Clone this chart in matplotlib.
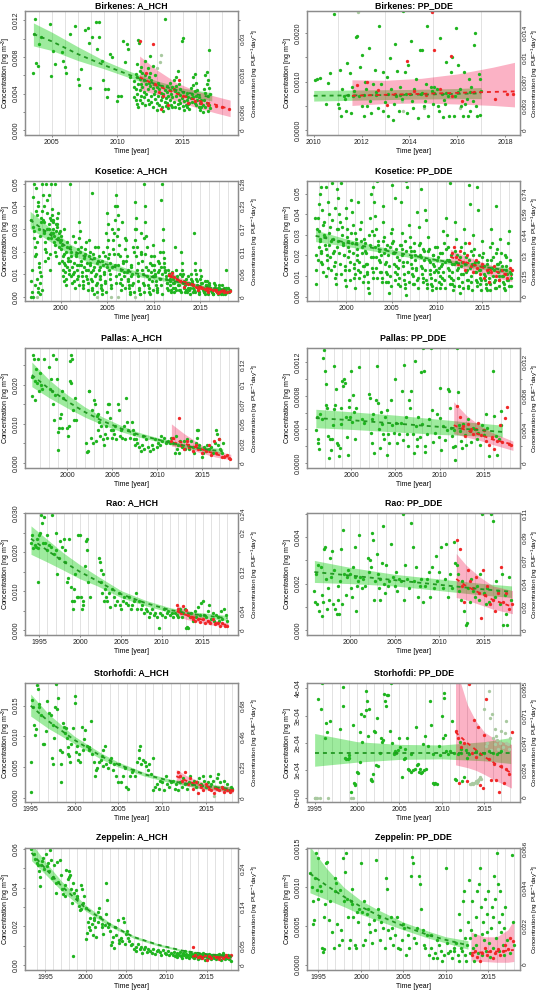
import matplotlib
matplotlib.use('Agg')
import matplotlib.pyplot as plt

plt.rcParams['font.family'] = ['Liberation Sans', 'DejaVu Sans']
plt.rcParams['mathtext.fontset'] = 'custom'
plt.rcParams['mathtext.rm'] = 'Liberation Sans'
plt.rcParams['mathtext.it'] = 'Liberation Sans'

# ---------------- Panel titles ----------------
titles = ["Birkenes: A_HCH", "Birkenes: PP_DDE", "Kosetice: A_HCH", "Kosetice: PP_DDE",
          "Pallas: A_HCH", "Pallas: PP_DDE", "Rao: A_HCH", "Rao: PP_DDE",
          "Storhofdi: A_HCH", "Storhofdi: PP_DDE", "Zeppelin: A_HCH", "Zeppelin: PP_DDE"]

# ---------------- Birkenes A_HCH ----------------
birk_ahch_green = [
 (2003.60,.00622),(2003.73,.01211),(2003.65,.01048),(2003.81,.0073),(2003.98,.00705),(2004.06,.0094),(2004.19,.01012),
 (2004.87,.01156),(2004.95,.00596),(2005.13,.00867),(2005.25,.00723),(2005.76,.00849),(2005.89,.00759),(2006.02,.00687),
 (2006.07,.00622),(2006.40,.01048),(2006.78,.01138),(2006.98,.0056),(2007.08,.00499),(2007.21,.00669),(2007.54,.01091),
 (2007.79,.0112),(2007.92,.00463),(2007.84,.00947),(2008.05,.01019),(2008.35,.01175),(2008.60,.01175),(2008.43,.00885),
 (2008.60,.01019),(2008.81,.00759),(2008.93,.00553),(2009.06,.00452),(2009.19,.00361),(2009.31,.00452),(2009.44,.00831),
 (2009.57,.00795),(2009.95,.00325),(2010.08,.00379),(2010.28,.00379),(2010.46,.00976),(2010.58,.00741),(2010.71,.0094),
 (2010.84,.00885),(2010.96,.00578),
 (2011.3,.0054),(2011.3,.0047),(2011.3,.0036),(2011.4,.0033),(2011.4,.0061),(2011.4,.0045),(2011.5,.0072),(2011.5,.0058),
 (2011.5,.0029),(2011.5,.0040),(2011.6,.0098),(2011.62,.0095),(2011.6,.0051),(2011.6,.0025),(2011.7,.0065),(2011.7,.0044),
 (2011.7,.0033),(2011.7,.0056),(2011.8,.0038),(2011.8,.0050),(2011.8,.0069),(2011.9,.0062),(2011.9,.0030),(2011.9,.0047),
 (2012.0,.0055),(2012.0,.0042),(2012.0,.0036),(2012.1,.0076),(2012.1,.0060),(2012.1,.0028),(2012.2,.0050),(2012.2,.0040),
 (2012.3,.0068),(2012.3,.0045),(2012.3,.0033),(2012.4,.0058),(2012.4,.0029),(2012.4,.0052),(2012.5,.0081),(2012.5,.0063),
 (2012.5,.0048),(2012.6,.0055),(2012.6,.0038),(2012.6,.0031),(2012.7,.0070),(2012.7,.0046),(2012.7,.0025),(2012.8,.0051),
 (2012.8,.0040),(2012.9,.0043),(2012.9,.0034),(2012.9,.0060),(2013.0,.0047),(2013.0,.0022),(2013.0,.0030),(2013.1,.0038),
 (2013.1,.0052),(2013.2,.0045),(2013.2,.0028),(2013.3,.0033),(2013.3,.0041),(2013.4,.0048),(2013.4,.0036),(2013.4,.0026),
 (2013.5,.0040),(2013.5,.0021),(2013.6,.0121),(2013.6,.0044),(2013.6,.0031),(2013.7,.0035),(2013.7,.0027),(2013.8,.0042),
 (2013.8,.0030),(2013.8,.0048),(2013.9,.0038),(2013.9,.0024),(2014.0,.0044),(2014.0,.0033),(2014.0,.0052),(2014.1,.0028),
 (2014.1,.0040),(2014.2,.0036),(2014.2,.0047),(2014.2,.0025),(2014.3,.0055),(2014.3,.0031),(2014.4,.0043),(2014.4,.0026),
 (2014.5,.0058),(2014.5,.0037),(2014.5,.0048),(2014.6,.0065),(2014.6,.0029),(2014.6,.0041),(2014.7,.0050),(2014.7,.0033),
 (2014.7,.0024),(2014.8,.0039),(2014.8,.0030),(2014.8,.0045),(2014.9,.0097),(2014.9,.0035),(2015.0,.0101),(2015.0,.0027),
 (2015.0,.0042),(2015.1,.0032),(2015.1,.0022),(2015.2,.0037),(2015.2,.0028),(2015.3,.0033),(2015.3,.0025),(2015.3,.0041),
 (2015.4,.0029),(2015.4,.0036),(2015.5,.0030),(2015.5,.0023),(2015.6,.0035),(2015.6,.0046),(2015.7,.0040),(2015.7,.0031),
 (2015.8,.0058),(2015.8,.0049),(2015.8,.0036),(2015.9,.0061),(2015.9,.0043),(2015.9,.0030),(2016.0,.0052),(2016.0,.0038),
 (2016.0,.0028),(2016.1,.0044),(2016.1,.0033),(2016.2,.0036),(2016.2,.0026),(2016.3,.0030),(2016.3,.0022),(2016.4,.0025),
 (2016.4,.0033),(2016.5,.0028),(2016.5,.0020),(2016.6,.0045),(2016.6,.0033),(2016.7,.0060),(2016.7,.0041),(2016.7,.0025),
 (2016.8,.0064),(2016.8,.0050),(2016.8,.0030),(2016.9,.0055),(2016.9,.0037),(2016.9,.0021),(2017.0,.0087),(2017.0,.0046),
 (2017.0,.0028),(2017.1,.0040),(2017.1,.0024)]
birk_ahch_red = [(2011.75,.0097),(2012.75,.0094),(2012.2,.0062),(2012.9,.0050),(2013.2,.0042),(2013.5,.0038),(2013.3,.0023),
 (2013.9,.0028),(2014.3,.0045),(2014.7,.0055),(2015.0,.0037),(2015.4,.0030),(2015.9,.0032),(2016.4,.0030),(2016.9,.0028),
 (2017.5,.0027),(2018.0,.0025),(2018.5,.0023)]
birk_ahch_pale = [(2013.3,.0082),(2013.25,.0075),(2013.0,.0068)]
birk_ahch_gband = ([2003.6,2005,2007,2009,2011,2013,2015,2017.2],
                   [.0092,.0087,.0076,.0067,.0057,.0047,.0039,.0032],
                   [.0105,.0097,.0083,.0071,.0060,.0050,.0042,.0036],
                   [.0117,.0107,.0091,.0076,.0064,.0054,.0046,.0041])
birk_ahch_pband = ([2011.7,2013,2014.5,2016,2017.5,2018.6],
                   [.0044,.0039,.0032,.0025,.0019,.0015],
                   [.0058,.0049,.0040,.0033,.0028,.0023],
                   [.0081,.0066,.0052,.0043,.0037,.0033])

# ---------------- Birkenes PP_DDE ----------------
birk_ppdde_green = [
 (2010.05,.00103),(2010.15,.00106),(2010.25,.00108),(2010.5,.00055),(2010.6,.00098),(2010.7,.00118),(2010.85,.0024),
 (2011.0,.00055),(2011.05,.00045),(2011.1,.00125),(2011.15,.0003),(2011.2,.00085),(2011.3,.00065),(2011.35,.0004),
 (2011.4,.00138),(2011.5,.00118),(2011.6,.0009),(2011.55,.00035),(2011.7,.0008),(2011.75,.00192),(2011.8,.00195),
 (2011.9,.0007),(2011.92,.0013),(2012.0,.0005),(2012.02,.00155),(2012.1,.0003),(2012.15,.0010),(2012.2,.00085),
 (2012.3,.0017),(2012.35,.0006),(2012.4,.00035),(2012.5,.00095),(2012.55,.00125),(2012.6,.00078),(2012.7,.00045),
 (2012.75,.00215),(2012.8,.00095),(2012.9,.0012),(2013.0,.00058),(2013.05,.0011),(2013.1,.0003),(2013.2,.00148),
 (2013.25,.00085),(2013.3,.0002),(2013.4,.00178),(2013.45,.0007),(2013.5,.00123),(2013.55,.0004),(2013.6,.0009),
 (2013.7,.00065),(2013.75,.00245),(2013.8,.0012),(2013.85,.00075),(2013.9,.00035),(2013.95,.00135),(2014.05,.00185),
 (2014.1,.0006),(2014.2,.00085),(2014.3,.00105),(2014.35,.00025),(2014.45,.00165),(2014.5,.00075),(2014.55,.00165),
 (2014.6,.0005),(2014.7,.00095),(2014.75,.00215),(2014.8,.0003),(2014.9,.0009),(2014.95,.0008),(2015.0,.00055),
 (2015.05,.0009),(2015.15,.00085),(2015.2,.0005),(2015.25,.0004),(2015.3,.0019),(2015.35,.00075),(2015.4,.00028),
 (2015.5,.00055),(2015.55,.0014),(2015.6,.0007),(2015.65,.0003),(2015.75,.0012),(2015.8,.0015),(2015.85,.0003),
 (2015.9,.0007),(2015.95,.0021),(2016.05,.00135),(2016.1,.00085),(2016.15,.0005),(2016.25,.0003),(2016.3,.0012),
 (2016.4,.00065),(2016.45,.0003),(2016.5,.00105),(2016.55,.0004),(2016.6,.0009),(2016.65,.0006),(2016.7,.00175),
 (2016.75,.002),(2016.8,.0005),(2016.85,.0003),(2016.9,.00115),(2016.95,.00105),(2017.0,.0008),(2016.97,.00032),
 (2011.25,.0007),(2011.45,.00072),(2011.65,.0007),(2012.12,.00072),(2012.62,.00073),(2013.12,.00075),(2013.62,.00073),
 (2014.02,.00074),(2014.52,.00076),(2015.02,.00076),(2015.52,.00077),(2016.02,.00078),(2016.52,.00078),
 (2012.25,.0005),(2012.9,.0004),(2013.35,.00055),(2014.15,.00045),(2014.65,.0006),(2015.45,.00062),(2016.35,.00055)]
birk_ppdde_red = [(2014.95,.00243),(2015.05,.00166),(2015.75,.00153),(2013.9,.00142),(2011.8,.00093),(2012.25,.00099),
 (2012.7,.00082),(2013.05,.00052),(2013.4,.00075),(2014.2,.0008),(2014.7,.00072),(2015.3,.00085),(2015.8,.0007),
 (2016.2,.0006),(2016.7,.00078),(2017.6,.00065),(2018.1,.00075),(2018.35,.00075)]
birk_ppdde_pale = [(2011.85,.00243),(2013.75,.0004),(2014.6,.00045),(2016.1,.00045),(2013.7,.0006)]
birk_ppdde_gband = ([2010.0,2012,2014,2016,2017.0],
                    [.00060,.00062,.00064,.00065,.00065],
                    [.00071,.00072,.00073,.00075,.00076],
                    [.00082,.00083,.00084,.00086,.00088])
birk_ppdde_pband = ([2011.6,2013,2014.5,2016,2017.5,2018.4],
                    [.00051,.00055,.00056,.00054,.00051,.00048],
                    [.00071,.00073,.00075,.00077,.00079,.0008],
                    [.00104,.00103,.00107,.00116,.0013,.0014])

# ---------------- Kosetice A_HCH ----------------
kos_ahch_green = [
 (1996.75,0.0),(1996.8,.034),(1996.85,.007),(1996.9,.012),(1996.95,.002),(1997.0,.044),(1997.05,0.0),(1997.1,.05),
 (1997.15,.029),(1997.2,.018),(1997.25,.005),(1997.3,.048),(1997.35,.038),(1997.4,.024),(1997.45,.008),(1997.5,.004),
 (1997.55,.002),(1997.6,.04),(1997.65,.03),(1997.7,.013),(1997.75,.006),(1997.8,.001),(1997.85,.035),(1997.9,.009),
 (1997.95,.003),(1998.0,.05),(1998.1,.045),(1998.15,.04),(1998.2,.033),(1998.25,.028),(1998.3,.021),(1998.35,.016),
 (1998.4,.05),(1998.5,.037),(1998.55,.03),(1998.6,.026),(1998.7,.045),(1998.75,.032),(1998.8,.019),(1998.85,.012),
 (1998.9,.028),(1998.95,.034),(1999.0,.05),(1999.1,.036),(1999.15,.033),(1999.2,.028),(1999.3,.024),(1999.35,.02),
 (1999.4,.05),(1999.45,.032),(1999.5,.029),(1999.6,.035),(1999.65,.031),(1999.7,.026),(1999.8,.022),(1999.85,.015),
 (1999.9,.029),(1999.95,.024),(2000.0,.021),(2000.05,.025),(2000.1,.016),(2000.2,.012),(2000.25,.009),(2000.3,.007),
 (2000.35,.03),(2000.4,.019),(2000.5,.014),(2000.6,.005),(2000.65,.013),(2000.7,.022),(2000.8,.017),(2000.9,.01),
 (2000.95,.05),(2001.0,.016),(2001.1,.02),(2001.15,.009),(2001.2,.006),(2001.3,.027),(2001.4,.015),(2001.45,.011),
 (2001.5,.004),(2001.6,.018),(2001.7,.012),(2001.8,.008),(2001.9,.021),(2001.95,.014),(2002.0,.033),(2002.1,.029),
 (2002.15,.022),(2002.2,.016),(2002.3,.011),(2002.35,.007),(2002.4,.004),(2002.5,.013),(2002.6,.019),(2002.7,.024),
 (2002.75,.009),(2002.8,.015),(2002.9,.006),(2002.95,.012),(2003.0,.025),(2003.1,.02),(2003.2,.014),(2003.3,.008),
 (2003.35,.046),(2003.4,.004),(2003.5,.012),(2003.55,.017),(2003.6,.001),(2003.7,.022),(2003.8,.01),(2003.9,.006),
 (2003.95,.015),(2004.0,.022),(2004.1,.018),(2004.2,.013),(2004.25,.009),(2004.3,.005),(2004.4,.003),(2004.5,.016),
 (2004.6,.02),(2004.7,.011),(2004.8,.007),(2004.9,.028),(2004.95,.013),(2005.0,.037),(2005.05,.032),(2005.1,.025),
 (2005.2,.019),(2005.3,.015),(2005.35,.01),(2005.4,.005),(2005.5,.013),(2005.6,.021),(2005.7,.028),(2005.8,.034),
 (2005.9,.04),(2005.95,.009),(2006.0,.045),(2006.1,.04),(2006.15,.036),(2006.2,.03),(2006.3,.023),(2006.4,.018),
 (2006.45,.012),(2006.5,.008),(2006.6,.005),(2006.7,.016),(2006.8,.011),(2006.9,.021),(2006.95,.026),(2007.0,.025),
 (2007.1,.018),(2007.2,.012),(2007.3,.008),(2007.4,.005),(2007.5,.002),(2007.6,.014),(2007.7,.01),(2007.8,.006),
 (2007.9,.02),(2007.95,.03),(2008.0,.042),(2008.1,.035),(2008.15,.03),(2008.2,.022),(2008.3,.015),(2008.35,.009),
 (2008.4,.004),(2008.5,.001),(2008.6,.028),(2008.7,.019),(2008.8,.012),(2008.9,.006),(2008.95,.002),(2009.0,.05),
 (2009.05,.04),(2009.1,.033),(2009.2,.027),(2009.3,.022),(2009.4,.012),(2009.5,.008),(2009.55,.004),(2009.6,.001),
 (2009.7,.018),(2009.8,.014),(2009.9,.009),(2009.95,.023),(2010.0,.018),(2010.1,.012),(2010.2,.009),(2010.3,.005),
 (2010.4,.003),(2010.5,.011),(2010.6,.015),(2010.7,.02),(2010.8,.043),(2010.85,.013),(2010.9,.01),(2010.95,.05),
 (2011.0,.03),(2011.05,.025),(2011.1,.017),(2011.15,.013),(2011.2,.011),(2011.3,.008),(2011.4,.006),(2011.5,.004),
 (2011.6,.012),(2011.7,.01),(2011.8,.007),(2011.9,.003),(2012.0,.009),(2012.1,.006),(2012.15,.004),(2012.2,.002),
 (2012.3,.022),(2012.4,.012),(2012.5,.008),(2012.6,.005),(2012.7,.003),(2012.8,.01),(2012.9,.007),(2013.0,.02),
 (2013.1,.015),(2013.2,.01),(2013.3,.007),(2013.4,.005),(2013.5,.003),(2013.6,.002),(2013.7,.009),(2013.8,.006),
 (2013.9,.004),(2014.0,.008),(2014.1,.006),(2014.2,.004),(2014.3,.002),(2014.4,.028),(2014.5,.015),(2014.6,.01),
 (2014.7,.007),(2014.8,.004),(2014.9,.002),(2015.0,.012),(2015.1,.009),(2015.2,.006),(2015.3,.004),(2015.4,.002),
 (2015.5,.001),(2015.6,.005),(2015.7,.003),(2015.8,.007),(2015.9,.002),(2016.0,.006),(2016.1,.004),(2016.2,.003),
 (2016.3,.002),(2016.4,.001),(2016.6,.005),(2016.7,.003),(2016.8,.002),(2016.9,.004),(2017.0,.005),(2017.1,.003),
 (2017.3,.002),(2017.5,.001),(2017.6,.004),(2017.7,.003),(2017.8,.012),(2017.9,.002),(2018.0,.004),(2018.1,.002),
 (2018.2,.003),
 (1997.02,.031),(1997.12,.026),(1997.22,.022),(1997.32,.019),(1997.42,.036),(1997.52,.042),(1997.62,.015),(1997.72,.011),
 (1997.82,.027),(1997.92,.033),(1998.02,.038),(1998.12,.034),(1998.22,.029),(1998.32,.024),(1998.42,.02),(1998.52,.043),
 (1998.62,.017),(1998.72,.03),(1998.82,.035),(1998.92,.026),(1999.02,.039),(1999.12,.034),(1999.22,.03),(1999.32,.027),
 (1999.42,.023),(1999.52,.018),(1999.62,.032),(1999.72,.037),(1999.82,.028),(1999.92,.025),(2000.02,.027),(2000.12,.023),
 (2000.22,.018),(2000.32,.015),(2000.42,.011),(2000.52,.008),(2000.62,.02),(2000.72,.024),(2000.82,.016),(2000.92,.012),
 (2001.02,.022),(2001.12,.018),(2001.22,.013),(2001.32,.01),(2001.42,.007),(2001.52,.024),(2001.62,.019),(2001.72,.014),
 (2001.82,.009),(2001.92,.005),(2002.02,.026),(2002.12,.02),(2002.22,.014),(2002.32,.009),(2002.42,.005),(2002.52,.017),
 (2002.62,.021),(2002.72,.012),(2002.82,.008),(2002.92,.003),(2003.02,.018),(2003.12,.015),(2003.22,.011),(2003.32,.007),
 (2003.42,.003),(2003.52,.019),(2003.62,.013),(2003.72,.009),(2003.82,.005),(2003.92,.002),(2004.02,.016),(2004.12,.012),
 (2004.22,.008),(2004.32,.004),(2004.42,.001),(2004.52,.014),(2004.62,.01),(2004.72,.006),(2004.82,.018),(2004.92,.002),
 (2005.02,.022),(2005.12,.017),(2005.22,.012),(2005.32,.008),(2005.42,.004),(2005.52,.03),(2005.62,.025),(2005.72,.019),
 (2005.82,.014),(2005.92,.006),(2006.02,.027),(2006.12,.019),(2006.22,.014),(2006.32,.01),(2006.42,.006),(2006.52,.003),
 (2006.62,.033),(2006.72,.015),(2006.82,.009),(2006.92,.004),(2007.02,.016),(2007.12,.011),(2007.22,.007),(2007.32,.004),
 (2007.42,.001),(2007.52,.013),(2007.62,.009),(2007.72,.005),(2007.82,.022),(2007.92,.002),(2008.02,.025),(2008.12,.018),
 (2008.22,.012),(2008.32,.007),(2008.42,.003),(2008.52,.001),(2008.62,.02),(2008.72,.016),(2008.82,.01),(2008.92,.005),
 (2009.02,.026),(2009.12,.019),(2009.22,.013),(2009.32,.009),(2009.42,.005),(2009.52,.002),(2009.62,.015),(2009.72,.011),
 (2009.82,.007),(2009.92,.003),(2010.02,.014),(2010.12,.01),(2010.22,.007),(2010.32,.004),(2010.42,.002),(2010.52,.016),
 (2010.62,.012),(2010.72,.008),(2010.82,.005),(2010.92,.001),(2011.02,.02),(2011.12,.015),(2011.22,.012),(2011.32,.009),
 (2011.42,.006),(2011.52,.003),(2011.62,.01),(2011.72,.008),(2011.82,.005),(2011.92,.002),(2012.02,.011),(2012.12,.008),
 (2012.22,.006),(2012.32,.004),(2012.42,.003),(2012.52,.009),(2012.62,.007),(2012.72,.005),(2012.82,.003),(2012.92,.002),
 (2013.02,.012),(2013.12,.009),(2013.22,.006),(2013.32,.004),(2013.42,.002),(2013.52,.008),(2013.62,.006),(2013.72,.004),
 (2013.82,.003),(2013.92,.001),(2014.02,.01),(2014.12,.007),(2014.22,.005),(2014.32,.003),(2014.42,.002),(2014.52,.012),
 (2014.62,.008),(2014.72,.005),(2014.82,.003),(2014.92,.001),(2015.02,.008),(2015.12,.006),(2015.22,.004),(2015.32,.003),
 (2015.42,.002),(2015.52,.007),(2015.62,.005),(2015.72,.003),(2015.82,.002),(2015.92,.001),(2016.02,.005),(2016.12,.004),
 (2016.22,.003),(2016.32,.002),(2016.42,.001),(2016.52,.006),(2016.62,.004),(2016.72,.003),(2016.82,.002),(2016.92,.001),
 (2017.02,.004),(2017.12,.003),(2017.22,.002),(2017.32,.001),(2017.42,.005),(2017.52,.003),(2017.62,.002),(2017.72,.001),
 (2017.82,.004),(2017.92,.002)]
kos_ahch_red = [(2011.7,.0095),(2011.9,.009),(2012.2,.0085),(2012.5,.0075),(2012.8,.007),(2013.1,.0065),(2013.4,.006),
 (2013.7,.0058),(2014.0,.0055),(2014.3,.005),(2014.6,.0045),(2014.9,.004),(2015.2,.0038),(2015.5,.0035),(2015.8,.003),
 (2016.1,.0032),(2016.4,.0028),(2016.7,.0025),(2017.0,.0022),(2017.3,.0025),(2017.6,.002),(2017.9,.0022),(2018.2,.0025),
 (2012.0,.0105),(2013.3,.0045),(2014.8,.003),(2015.9,.0022),(2016.9,.0015)]
kos_ahch_pale = [(2003.9,0.0),(2005.4,0.0),(2006.2,0.0),(2008.0,0.0),(1997.4,0.0)]
kos_ahch_gband = ([1996.7,1999,2001,2003,2005,2007,2009,2011,2013,2015,2017,2018.2],
                  [.0302,.024,.0187,.0152,.0126,.0103,.0084,.007,.0055,.0042,.0029,.0024],
                  [.034,.027,.021,.017,.0142,.0115,.0094,.0078,.0062,.0048,.0035,.003],
                  [.0378,.030,.0233,.0188,.0158,.0127,.0104,.0086,.0069,.0054,.0041,.0036])
kos_ahch_pband = ([2011.6,2013,2015,2016.5,2018.2],
                  [.0075,.006,.0035,.0025,.0018],
                  [.0092,.007,.0044,.0032,.0025],
                  [.0115,.0082,.0052,.004,.0032])

# ---------------- Kosetice PP_DDE ----------------
kos_ppdde_green = [
 (1996.55,.038),(1996.6,.006),(1996.65,.02),(1996.7,.013),(1996.8,.033),(1996.85,.018),(1996.9,.038),(1996.95,.024),
 (1997.0,.045),(1997.05,.05),(1997.1,.028),(1997.15,.022),(1997.2,.017),(1997.25,.053),(1997.3,.042),(1997.4,.035),
 (1997.5,.03),(1997.6,.025),(1997.7,.053),(1997.8,.01),(1997.9,.02),(1998.0,.046),(1998.1,.04),(1998.2,.034),
 (1998.3,.027),(1998.4,.055),(1998.5,.021),(1998.6,.015),(1998.7,.043),(1998.8,.009),(1998.9,.006),(1998.95,.033),
 (1999.0,.052),(1999.1,.048),(1999.2,.04),(1999.3,.036),(1999.4,.055),(1999.5,.03),(1999.6,.025),(1999.7,.02),
 (1999.8,.013),(1999.9,.008),(1999.95,.005),(2000.0,.038),(2000.1,.033),(2000.2,.027),(2000.3,.022),(2000.4,.017),
 (2000.5,.047),(2000.6,.041),(2000.7,.035),(2000.8,.014),(2000.9,.009),(2000.95,.004),(2001.0,.031),(2001.1,.026),
 (2001.2,.02),(2001.3,.046),(2001.4,.017),(2001.5,.012),(2001.6,.036),(2001.7,.024),(2001.8,.007),(2001.9,.015),
 (2002.0,.028),(2002.1,.022),(2002.2,.016),(2002.3,.011),(2002.4,.004),(2002.5,.002),(2002.6,.038),(2002.7,.05),
 (2002.8,.032),(2002.9,.019),(2002.95,.012),(2003.0,.053),(2003.1,.046),(2003.2,.039),(2003.3,.033),(2003.4,.056),
 (2003.5,.025),(2003.6,.018),(2003.7,.012),(2003.8,.02),(2003.9,.009),(2004.0,.044),(2004.1,.036),(2004.2,.029),
 (2004.3,.023),(2004.4,.017),(2004.5,.011),(2004.6,.007),(2004.7,.002),(2004.8,.024),(2004.9,.031),(2005.0,.054),
 (2005.1,.033),(2005.2,.027),(2005.3,.021),(2005.4,.048),(2005.5,.015),(2005.6,.011),(2005.7,.006),(2005.8,.018),
 (2005.9,.025),(2006.0,.046),(2006.1,.031),(2006.2,.023),(2006.3,.017),(2006.4,.008),(2006.5,.004),(2006.55,.001),
 (2006.6,.056),(2006.7,.053),(2006.8,.012),(2006.9,.035),(2007.0,.029),(2007.1,.022),(2007.2,.016),(2007.3,.011),
 (2007.4,.006),(2007.5,.026),(2007.6,.02),(2007.7,.014),(2007.8,.041),(2007.9,.009),(2008.0,.034),(2008.1,.026),
 (2008.2,.052),(2008.3,.019),(2008.4,.014),(2008.5,.009),(2008.6,.022),(2008.7,.042),(2008.8,.037),(2008.9,.006),
 (2009.0,.029),(2009.1,.023),(2009.2,.017),(2009.3,.011),(2009.4,.006),(2009.5,.003),(2009.6,.02),(2009.7,.015),
 (2009.8,.024),(2009.9,.013),(2010.0,.018),(2010.1,.012),(2010.2,.007),(2010.3,.004),(2010.4,.021),(2010.5,.015),
 (2010.6,.009),(2010.7,.032),(2010.8,.026),(2010.9,.017),(2011.0,.038),(2011.1,.03),(2011.2,.024),(2011.3,.018),
 (2011.4,.013),(2011.5,.055),(2011.6,.009),(2011.7,.006),(2011.8,.003),(2011.9,.016),(2012.0,.036),(2012.1,.028),
 (2012.2,.02),(2012.3,.014),(2012.4,.009),(2012.5,.005),(2012.6,.002),(2012.7,.024),(2012.8,.017),(2012.9,.011),
 (2013.0,.033),(2013.1,.026),(2013.2,.019),(2013.3,.013),(2013.4,.008),(2013.5,.004),(2013.6,.054),(2013.7,.045),
 (2013.8,.022),(2013.9,.016),(2014.0,.03),(2014.1,.023),(2014.2,.017),(2014.3,.012),(2014.4,.007),(2014.5,.053),
 (2014.6,.042),(2014.7,.02),(2014.8,.013),(2014.9,.008),(2015.0,.027),(2015.1,.021),(2015.2,.015),(2015.3,.01),
 (2015.4,.006),(2015.5,.003),(2015.6,.018),(2015.7,.012),(2015.8,.007),(2015.9,.024),(2016.0,.033),(2016.1,.026),
 (2016.2,.019),(2016.3,.013),(2016.4,.008),(2016.5,.004),(2016.6,.044),(2016.7,.023),(2016.8,.016),(2016.9,.01),
 (2017.0,.028),(2017.1,.021),(2017.2,.015),(2017.3,.01),(2017.4,.006),(2017.5,.003),(2017.6,.019),(2017.7,.013),
 (2017.8,.008),(2017.9,.026),(2018.0,.032),(2018.1,.018),(2018.2,.011),(2018.25,.005),
 (1997.03,.032),(1997.13,.027),(1997.23,.021),(1997.33,.016),(1997.43,.012),(1997.53,.036),(1997.63,.029),(1997.73,.023),
 (1997.83,.018),(1997.93,.014),(1998.03,.031),(1998.13,.025),(1998.23,.019),(1998.33,.013),(1998.43,.037),(1998.53,.028),
 (1998.63,.022),(1998.73,.017),(1998.83,.011),(1998.93,.024),(1999.03,.033),(1999.13,.027),(1999.23,.021),(1999.33,.016),
 (1999.43,.011),(1999.53,.034),(1999.63,.026),(1999.73,.02),(1999.83,.015),(1999.93,.043),(2000.03,.029),(2000.13,.024),
 (2000.23,.019),(2000.33,.013),(2000.43,.008),(2000.53,.031),(2000.63,.026),(2000.73,.021),(2000.83,.016),(2000.93,.011),
 (2001.03,.028),(2001.13,.023),(2001.23,.018),(2001.33,.013),(2001.43,.009),(2001.53,.033),(2001.63,.027),(2001.73,.021),
 (2001.83,.015),(2001.93,.01),(2002.03,.026),(2002.13,.021),(2002.23,.016),(2002.33,.012),(2002.43,.007),(2002.53,.03),
 (2002.63,.025),(2002.73,.019),(2002.83,.014),(2002.93,.009),(2003.03,.03),(2003.13,.024),(2003.23,.019),(2003.33,.014),
 (2003.43,.009),(2003.53,.027),(2003.63,.022),(2003.73,.017),(2003.83,.012),(2003.93,.007),(2004.03,.027),(2004.13,.021),
 (2004.23,.016),(2004.33,.012),(2004.43,.007),(2004.53,.025),(2004.63,.02),(2004.73,.015),(2004.83,.01),(2004.93,.005),
 (2005.03,.026),(2005.13,.021),(2005.23,.016),(2005.33,.012),(2005.43,.008),(2005.53,.023),(2005.63,.019),(2005.73,.014),
 (2005.83,.009),(2005.93,.005),(2006.03,.025),(2006.13,.02),(2006.23,.015),(2006.33,.011),(2006.43,.006),(2006.53,.027),
 (2006.63,.022),(2006.73,.017),(2006.83,.012),(2006.93,.007),(2007.03,.024),(2007.13,.019),(2007.23,.014),(2007.33,.01),
 (2007.43,.006),(2007.53,.022),(2007.63,.018),(2007.73,.013),(2007.83,.008),(2007.93,.004),(2008.03,.025),(2008.13,.02),
 (2008.23,.015),(2008.33,.011),(2008.43,.007),(2008.53,.023),(2008.63,.018),(2008.73,.013),(2008.83,.008),(2008.93,.004),
 (2009.03,.022),(2009.13,.018),(2009.23,.013),(2009.33,.009),(2009.43,.005),(2009.53,.02),(2009.63,.016),(2009.73,.012),
 (2009.83,.008),(2009.93,.004),(2010.03,.024),(2010.13,.019),(2010.23,.014),(2010.33,.01),(2010.43,.006),(2010.53,.021),
 (2010.63,.016),(2010.73,.012),(2010.83,.008),(2010.93,.004),(2011.03,.023),(2011.13,.018),(2011.23,.014),(2011.33,.01),
 (2011.43,.006),(2011.53,.02),(2011.63,.016),(2011.73,.012),(2011.83,.008),(2011.93,.005),(2012.03,.022),(2012.13,.017),
 (2012.23,.013),(2012.33,.009),(2012.43,.005),(2012.53,.019),(2012.63,.015),(2012.73,.011),(2012.83,.007),(2012.93,.004),
 (2013.03,.021),(2013.13,.016),(2013.23,.012),(2013.33,.008),(2013.43,.005),(2013.53,.018),(2013.63,.014),(2013.73,.01),
 (2013.83,.007),(2013.93,.003),(2014.03,.02),(2014.13,.016),(2014.23,.012),(2014.33,.008),(2014.43,.005),(2014.53,.017),
 (2014.63,.013),(2014.73,.009),(2014.83,.006),(2014.93,.003),(2015.03,.019),(2015.13,.015),(2015.23,.011),(2015.33,.008),
 (2015.43,.004),(2015.53,.016),(2015.63,.012),(2015.73,.009),(2015.83,.006),(2015.93,.003),(2016.03,.018),(2016.13,.014),
 (2016.23,.01),(2016.33,.007),(2016.43,.004),(2016.53,.021),(2016.63,.016),(2016.73,.012),(2016.83,.008),(2016.93,.005),
 (2017.03,.017),(2017.13,.013),(2017.23,.01),(2017.33,.007),(2017.43,.004),(2017.53,.02),(2017.63,.015),(2017.73,.011),
 (2017.83,.008),(2017.93,.005),(2018.05,.012),(2018.15,.009)]
kos_ppdde_red = [(2011.7,.021),(2011.9,.024),(2012.1,.019),(2012.3,.016),(2012.6,.022),(2012.9,.017),(2013.1,.013),
 (2013.3,.02),(2013.6,.026),(2013.8,.015),(2014.0,.012),(2014.3,.018),(2014.5,.014),(2014.8,.011),(2015.0,.016),
 (2015.2,.009),(2015.5,.013),(2015.8,.007),(2016.0,.012),(2016.3,.015),(2016.6,.01),(2016.9,.008),(2017.2,.013),
 (2017.5,.011),(2017.8,.009),(2018.1,.014),(2018.3,.013)]
kos_ppdde_pale = []
kos_ppdde_gband = ([1996.6,2000,2005,2010,2015,2018.2],
                   [.0267,.0244,.0206,.0167,.0133,.011],
                   [.0295,.0262,.0218,.0177,.0145,.0125],
                   [.0323,.028,.023,.0187,.0157,.014])
kos_ppdde_pband = ([2011.5,2013,2015,2016.5,2018.3],
                   [.0157,.0135,.0112,.0093,.0073],
                   [.0193,.017,.0142,.0122,.010],
                   [.023,.02,.0168,.0145,.0125])

# ---------------- Pallas A_HCH ----------------
pal_ahch_green = [
 (1996.1,.017),(1996.15,.022),(1996.25,.0275),(1996.3,.0265),(1996.4,.021),(1996.5,.016),(1996.6,.024),(1996.7,.0205),
 (1996.8,.0265),(1996.9,.0185),(1997.0,.023),(1997.1,.02),(1997.2,.019),(1997.4,.0265),(1998.0,.0245),(1998.1,.019),
 (1998.2,.0215),(1998.3,.0185),(1998.4,.015),(1998.5,.0275),(1998.6,.011),(1998.7,.0175),(1998.8,.0265),(1998.9,.0215),
 (1999.0,.008),(1999.05,.0032),(1999.1,.009),(1999.2,.0115),(1999.3,.0125),(1999.4,.009),(1999.5,.0185),(1999.6,.0165),
 (2000.0,.009),(2000.1,.007),(2000.2,.0095),(2000.3,.026),(2000.35,.021),(2000.4,.0205),(2000.5,.0275),(2000.6,.0265),
 (2000.7,.0135),(2000.8,.011),(2000.9,.0165),(2001.0,.011),(2002.1,.005),(2002.2,.0028),(2002.3,.003),(2002.4,.0185),
 (2002.5,.0185),(2002.7,.0065),(2002.8,.0135),(2002.9,.005),(2003.0,.016),(2003.1,.015),(2003.2,.0055),(2003.3,.012),
 (2003.4,.0085),(2003.5,.0125),(2003.6,.0105),(2003.7,.007),(2003.8,.0095),(2004.0,.006),(2004.1,.0045),(2004.2,.0075),
 (2004.3,.0095),(2004.4,.0065),(2004.5,.013),(2004.6,.015),(2004.7,.015),(2004.8,.0115),(2004.9,.0085),(2005.0,.0065),
 (2005.1,.0085),(2005.2,.0075),(2005.3,.0095),(2005.5,.006),(2005.7,.015),(2005.8,.0135),(2005.9,.007),(2006.0,.0085),
 (2006.1,.0065),(2006.3,.0095),(2006.4,.006),(2006.6,.0165),(2006.7,.0105),(2006.8,.0085),(2007.0,.0065),(2007.2,.0105),
 (2007.3,.0085),(2007.4,.006),(2007.5,.0075),(2007.6,.0045),(2007.7,.006),(2007.8,.005),(2008.0,.004),(2008.2,.003),
 (2008.3,.0045),(2008.4,.007),(2008.6,.0035),(2008.8,.006),(2009.0,.004),(2009.2,.003),(2009.4,.0045),(2009.6,.0035),
 (2009.8,.006),(2010.0,.004),(2010.1,.005),(2010.3,.0045),(2010.5,.007),(2010.6,.0055),(2010.8,.0065),(2011.0,.005),
 (2011.2,.0055),(2011.4,.005),(2011.6,.0065),(2011.8,.005),(2012.0,.0025),(2012.1,.007),(2012.2,.0035),(2012.3,.0045),
 (2012.5,.0025),(2012.6,.0055),(2012.8,.004),(2013.0,.0055),(2013.1,.0035),(2013.3,.006),(2013.4,.0045),(2013.6,.0035),
 (2013.8,.0055),(2014.0,.004),(2014.1,.0025),(2014.3,.005),(2014.4,.0065),(2014.5,.0085),(2014.6,.0085),(2014.7,.0045),
 (2014.8,.0035),(2015.0,.0015),(2015.1,.0025),(2015.2,.004),(2015.4,.003),(2015.6,.0045),(2015.8,.0035),(2016.0,.004),
 (2016.2,.0025),(2016.4,.005),(2016.6,.0085),(2016.7,.0075),(2016.8,.0045),(2016.9,.006),(2017.0,.0035),(2017.2,.0025),
 (2017.3,.005)]
pal_ahch_red = [(2011.6,.0055),(2011.8,.0065),(2012.0,.005),(2012.5,.0115),(2012.7,.0045),(2013.0,.0035),(2013.3,.0055),
 (2013.6,.004),(2014.0,.003),(2014.3,.0045),(2014.6,.0035),(2015.0,.0025),(2015.5,.003),(2015.8,.0045),(2016.0,.002),
 (2016.3,.0055),(2016.6,.0025),(2016.9,.006),(2017.2,.0015),(2017.5,.0015),(2017.8,.002),(2018.0,.0012),(2018.1,.001)]
pal_ahch_pale = []
pal_ahch_gband = ([1996.1,1998,2000,2002,2004,2006,2008,2010,2012,2014,2016,2017.3],
                  [.0195,.0167,.0141,.0117,.0097,.0080,.0066,.0055,.0044,.0035,.0027,.0023],
                  [.0225,.019,.0158,.013,.0107,.0088,.0072,.006,.0049,.004,.0033,.003],
                  [.0258,.0213,.0175,.0143,.0117,.0096,.0078,.0065,.0054,.0045,.0039,.0037])
pal_ahch_pband = ([2011.6,2013,2015,2016.5,2018.2],
                  [.0043,.0038,.0025,.0015,.0008],
                  [.0064,.005,.0035,.0022,.0014],
                  [.010,.0075,.0045,.0031,.0022])

# ---------------- Pallas PP_DDE ----------------
pal_ppdde_green = [
 (1996.05,.00039),(1996.1,.00055),(1996.2,.00028),(1996.3,.00024),(1996.4,.00017),(1996.5,.00058),(1996.7,.00052),
 (1996.8,.00125),(1996.9,.00135),(1997.0,.0011),(1997.1,.00094),(1997.2,.00069),(1997.3,.00066),(1997.4,.00032),
 (1997.5,.00006),(1997.6,.00029),(1997.7,.00015),(1997.8,.00028),(1997.9,.00045),(1998.0,.00116),(1998.1,.00064),
 (1998.2,.00069),(1998.3,.00088),(1998.4,.00024),(1998.5,.00022),(1998.6,.00008),(1998.7,.00018),(1998.8,.00065),
 (1998.9,.00047),(1999.0,.00098),(1999.1,.00092),(1999.2,.0010),(1999.3,.00095),(1999.4,.00055),(1999.5,.00031),
 (1999.6,.00009),(1999.7,.00067),(1999.8,.00075),(1999.9,.00055),(2000.0,.00109),(2000.1,.00049),(2000.2,.00081),
 (2000.3,.00061),(2000.4,.00028),(2000.5,.00065),(2000.9,.00114),(2001.2,.00052),(2001.5,.00048),(2002.0,.00082),
 (2002.1,.00077),(2002.2,.00036),(2002.3,.00052),(2002.4,.00024),(2002.5,.00058),(2002.6,.00012),(2002.8,.00075),
 (2002.9,.00115),(2003.0,.00071),(2003.1,.0004),(2003.3,.00018),(2003.4,.00061),(2003.5,.00046),(2003.6,.00035),
 (2003.7,.00029),(2003.8,.00055),(2004.0,.00063),(2004.1,.0001),(2004.2,.00034),(2004.3,.00024),(2004.5,.00075),
 (2004.6,.00045),(2004.8,.00036),(2005.0,.001),(2005.1,.00048),(2005.2,.00024),(2005.4,.00035),(2005.6,.00048),
 (2005.8,.00086),(2005.9,.00027),(2006.0,.00117),(2006.2,.00055),(2006.3,.00035),(2006.4,.0002),(2006.5,.00075),
 (2006.6,.00065),(2006.8,.00086),(2007.0,.00035),(2007.1,.00012),(2007.2,.00121),(2007.3,.00044),(2007.4,.00028),
 (2007.5,.0002),(2007.6,.00055),(2007.8,.00031),(2007.9,.00108),(2008.0,.00047),(2008.1,.00137),(2008.2,.0011),
 (2008.3,.00013),(2008.4,.0002),(2008.6,.00035),(2008.8,.00052),(2009.0,.00137),(2009.1,.00063),(2009.3,.00025),
 (2009.5,.00036),(2009.7,.00058),(2009.9,.00031),(2010.0,.00089),(2010.1,.00054),(2010.2,.00015),(2010.4,.00044),
 (2010.6,.00027),(2010.8,.00039),(2011.0,.00088),(2011.1,.00086),(2011.2,.00065),(2011.3,.00042),(2011.4,.00032),
 (2011.5,.00019),(2011.6,.00039),(2011.7,.0002),(2011.8,.00003),(2012.0,.00137),(2012.1,.00085),(2012.2,.00045),
 (2012.3,.00038),(2012.4,.00026),(2012.5,.00018),(2012.7,.00047),(2012.9,.00033),(2013.0,.00022),(2013.2,.00052),
 (2013.4,.00038),(2013.6,.00025),(2013.8,.00042),(2014.0,.0004),(2014.2,.00029),(2014.4,.00036),(2014.6,.00021),
 (2014.8,.00045),(2015.0,.00033),(2015.2,.00058),(2015.4,.00042),(2015.6,.00008),(2016.0,.0011),(2016.2,.00056),
 (2016.4,.00032),(2016.5,.0001),(2016.7,.00028),(2016.9,.00062),(2017.0,.00045)]
pal_ppdde_red = [(2012.0,.00068),(2012.3,.00055),(2012.6,.00044),(2012.9,.00032),(2013.2,.00046),(2013.5,.0004),
 (2013.8,.00035),(2014.1,.00041),(2014.4,.00048),(2014.7,.00033),(2015.0,.00039),(2015.3,.00026),(2015.6,.00021),
 (2015.9,.00031),(2016.2,.00017),(2016.5,.00026),(2016.8,.00045),(2017.1,.00025),(2017.4,.00054),(2017.6,.00067),
 (2017.8,.00023),(2018.1,.00022)]
pal_ppdde_pale = []
pal_ppdde_gband = ([1996.0,2000,2005,2010,2017.1],
                   [.00042,.0004,.00037,.00034,.00031],
                   [.000535,.00051,.00047,.00043,.00037],
                   [.00064,.00061,.00057,.00052,.00045])
pal_ppdde_pband = ([2011.6,2013,2014.5,2016,2018.3],
                   [.00035,.00031,.00027,.00022,.00015],
                   [.00045,.00039,.00034,.00028,.00022],
                   [.00073,.00057,.00045,.00036,.00026])

# ---------------- Rao A_HCH ----------------
rao_ahch_green = [
 (1994.0,.0225),(1994.1,.0245),(1994.3,.021),(1994.5,.022),(1994.6,.0215),(1994.7,.0235),(1994.8,.0125),(1994.9,.021),
 (1995.0,.0245),(1995.1,.025),(1995.2,.0295),(1995.3,.0275),(1995.5,.0225),(1995.6,.029),(1995.7,.0225),(1995.9,.0245),
 (1996.0,.0205),(1996.2,.022),(1996.4,.0215),(1996.6,.0295),(1996.8,.0195),(1997.0,.0205),(1997.1,.025),(1997.2,.0145),
 (1997.4,.0185),(1997.6,.023),(1997.8,.0215),(1998.0,.0235),(1998.1,.0205),(1998.2,.0175),(1998.4,.0125),(1998.5,.0135),
 (1998.7,.0235),(1998.9,.011),(1999.0,.0075),(1999.1,.0055),(1999.2,.0075),(1999.3,.0105),(1999.4,.0145),(1999.6,.0085),
 (1999.7,.0085),(1999.8,.0245),(2000.0,.0245),(2000.1,.0085),(2000.2,.0055),(2000.3,.0065),(2000.4,.0075),(2000.6,.0165),
 (2000.7,.023),(2000.8,.0205),(2000.9,.0235),(2001.0,.0125),(2001.2,.0085),(2002.3,.0185),(2002.4,.0175),(2002.5,.0155),
 (2002.6,.0125),(2002.7,.0095),(2002.8,.0145),(2002.9,.0075),(2003.0,.0105),(2003.2,.0085),(2003.3,.0075),(2003.5,.0095),
 (2003.7,.006),(2003.9,.0105),(2004.1,.0085),(2004.3,.0065),(2004.5,.0075),(2004.7,.0095),(2004.9,.0065),(2005.0,.0055),
 (2005.2,.0075),(2005.4,.0085),(2005.6,.007),(2005.8,.0065),(2006.0,.0085),(2006.2,.0055),(2006.4,.0065),(2006.6,.0075),
 (2006.8,.0095),(2007.0,.0055),(2007.2,.0075),(2007.4,.0055),(2007.6,.0065),(2007.8,.0045),(2008.0,.0055),(2008.2,.005),
 (2008.4,.0035),(2008.6,.0045),(2008.8,.0055),(2009.0,.004),(2009.2,.0045),(2009.4,.0035),(2009.6,.0005),(2009.8,.0045),
 (2010.0,.004),(2010.2,.0055),(2010.4,.0035),(2010.6,.0045),(2010.8,.005),(2011.0,.004),(2011.2,.0045),(2011.4,.0035),
 (2011.6,.0045),(2011.8,.004),(2012.0,.0035),(2012.2,.0055),(2012.4,.0035),(2012.6,.0045),(2012.8,.0055),(2013.0,.0005),
 (2013.1,.0008),(2013.2,.0005),(2013.4,.0035),(2013.6,.0045),(2013.8,.0025),(2014.0,.005),(2014.2,.0035),(2014.4,.006),
 (2014.6,.004),(2014.8,.007),(2015.0,.0075),(2015.2,.004),(2015.4,.0035),(2015.6,.005),(2015.8,.0065),(2016.0,.003),
 (2016.2,.0045),(2016.4,.0025),(2016.6,.004),(2016.8,.0035),(2017.0,.0025),(2017.2,.005),(2017.4,.003),(2017.6,.0055),
 (2017.8,.004),(2018.0,.0025)]
rao_ahch_red = [(2011.8,.0065),(2012.0,.0055),(2012.3,.0045),(2012.6,.0062),(2012.9,.0052),(2013.2,.004),(2013.5,.0035),
 (2013.8,.003),(2014.1,.0025),(2014.4,.003),(2014.7,.0022),(2015.0,.0028),(2015.3,.0018),(2015.6,.0025),(2015.9,.002),
 (2016.2,.0028),(2016.5,.0015),(2016.8,.002),(2017.1,.0012),(2017.4,.0018),(2017.7,.001),(2018.0,.0012)]
rao_ahch_pale = []
rao_ahch_gband = ([1994.0,1996,1998,2000,2002,2005,2008,2011,2014,2018.0],
                  [.0195,.0175,.0154,.0132,.0115,.0084,.0063,.0046,.0035,.0025],
                  [.0235,.0205,.0176,.015,.0128,.0093,.007,.0052,.0041,.0031],
                  [.0268,.0233,.0198,.0168,.0141,.0102,.0077,.0058,.0047,.0038])
rao_ahch_pband = ([2011.8,2013,2014.5,2016,2018.1],
                  [.0036,.0028,.0021,.0014,.0008],
                  [.0049,.0039,.003,.0021,.0013],
                  [.0066,.0052,.0039,.0028,.0019])

# ---------------- Rao PP_DDE ----------------
rao_ppdde_green = [
 (1996.0,.0017),(1996.1,.0012),(1996.2,.0024),(1996.3,.0011),(1996.4,.0028),(1996.5,.0008),(1996.7,.0027),(1996.8,.0015),
 (1996.9,.0006),(1997.0,.0012),(1997.1,.0035),(1997.2,.0036),(1997.3,.0022),(1997.4,.0009),(1997.5,.0018),(1997.6,.0013),
 (1997.8,.0031),(1997.9,.0023),(1998.0,.0034),(1998.1,.0011),(1998.2,.0026),(1998.3,.0009),(1998.5,.0007),(1998.6,.0019),
 (1998.7,.0013),(1998.8,.0007),(1998.9,.0021),(1999.0,.0035),(1999.1,.0011),(1999.2,.0043),(1999.3,.0024),(1999.5,.0015),
 (1999.6,.0023),(1999.8,.0026),(2000.0,.0024),(2000.1,.0018),(2000.2,.0014),(2000.3,.0027),(2000.5,.0023),(2000.6,.0036),
 (2000.7,.0008),(2000.8,.0019),(2000.9,.0021),(2001.0,.0041),(2001.1,.0023),(2001.3,.0018),(2001.5,.0022),(2001.7,.0019),
 (2002.0,.0031),(2002.1,.0025),(2002.2,.003),(2002.3,.0027),(2002.5,.0042),(2002.6,.0039),(2002.7,.0013),(2002.8,.0021),
 (2003.0,.0033),(2003.1,.0024),(2003.2,.0018),(2003.3,.0013),(2003.4,.0022),(2003.6,.0029),(2003.7,.0045),(2003.8,.002),
 (2003.9,.0016),(2004.0,.0028),(2004.2,.0019),(2004.4,.0021),(2004.6,.0037),(2004.8,.0023),(2005.0,.0019),(2005.1,.0025),
 (2005.3,.0017),(2005.5,.0022),(2005.7,.0021),(2005.9,.005),(2006.0,.0013),(2006.2,.0028),(2006.4,.0022),(2006.6,.0018),
 (2006.8,.0046),(2007.0,.0036),(2007.2,.0021),(2007.4,.0027),(2007.6,.0014),(2007.8,.0019),(2008.0,.0022),(2008.2,.0012),
 (2008.4,.0019),(2008.6,.0022),(2008.8,.0025),(2009.0,.0014),(2009.2,.0027),(2009.4,.0018),(2009.6,.0032),(2009.8,.0021),
 (2010.0,.0025),(2010.2,.0036),(2010.4,.0018),(2010.6,.0022),(2010.8,.0037),(2011.0,.0014),(2011.2,.0024),(2011.4,.0018),
 (2011.6,.0038),(2011.8,.0029),(2012.0,.0028),(2012.1,.0024),(2012.2,.0017),(2012.4,.0013),(2012.6,.0021),(2012.8,.0008),
 (2013.0,.0002),(2013.1,.0003),(2013.2,.0018),(2013.4,.0012),(2013.6,.0022),(2013.8,.0017),(2014.0,.0014),(2014.2,.0019),
 (2014.4,.0013),(2014.6,.0024),(2014.8,.005),(2015.0,.0016),(2015.2,.0011),(2015.4,.0018),(2015.6,.0012),(2015.8,.005),
 (2016.0,.0047),(2016.2,.0014),(2016.4,.0021),(2016.6,.0017),(2016.8,.0011),(2017.0,.0024),(2017.2,.0002),(2017.4,.0015),
 (2017.5,.0007),(2017.6,.0002),(2017.8,.0023),(2018.0,.0013)]
rao_ppdde_red = [(2012.0,.0039),(2012.3,.0035),(2012.5,.0019),(2012.8,.0012),(2013.2,.0026),(2013.5,.0021),(2013.8,.0018),
 (2014.1,.0023),(2014.4,.0016),(2014.7,.0005),(2014.9,.0026),(2015.1,.0015),(2015.4,.0019),(2015.7,.0011),(2016.0,.0013),
 (2016.3,.0008),(2016.6,.0016),(2016.9,.0027),(2017.2,.0012),(2017.5,.0016),(2017.8,.0009),(2018.1,.0011)]
rao_ppdde_pale = []
rao_ppdde_gband = ([1996.0,2000,2005,2010,2015,2018.1],
                   [.00205,.0020,.0019,.0017,.0015,.0014],
                   [.0025,.00235,.00215,.00195,.00175,.00165],
                   [.0030,.0027,.0024,.0022,.002,.0019])
rao_ppdde_pband = ([2011.9,2013,2014.5,2016,2018.2],
                   [.0014,.0013,.0011,.0009,.0007],
                   [.0022,.0019,.0016,.0013,.001],
                   [.0033,.0028,.0023,.0019,.0017])

# ---------------- Storhofdi A_HCH ----------------
sto_ahch_green = [
 (1995.0,.0058),(1995.05,.0009),(1995.1,.016),(1995.3,.0148),(1995.4,.0118),(1995.5,.0102),(1995.6,.0112),(1995.7,.0183),
 (1995.8,.0178),(1995.9,.0152),(1996.0,.0148),(1996.2,.0135),(1996.4,.0088),(1996.5,.0087),(1996.7,.0108),(1996.9,.0158),
 (1997.1,.0138),(1997.3,.0135),(1997.4,.0065),(1997.5,.0055),(1997.6,.0118),(1997.7,.0098),(1997.8,.0148),(1997.9,.0185),
 (1998.0,.0145),(1998.1,.0162),(1998.3,.0078),(1998.4,.0025),(1998.5,.0055),(1998.6,.0075),(1998.7,.0121),(1998.8,.0115),
 (1998.9,.0105),(1999.0,.0113),(1999.1,.0098),(1999.2,.0072),(1999.3,.0082),(1999.4,.0068),(1999.5,.0058),(1999.6,.0088),
 (1999.8,.0113),(2000.0,.0165),(2000.1,.0155),(2000.2,.0075),(2000.3,.0085),(2000.4,.0062),(2000.5,.0072),(2000.6,.0058),
 (2000.8,.0115),(2001.0,.0078),(2001.1,.0095),(2001.2,.011),(2001.4,.0085),(2001.6,.0082),(2001.7,.0078),(2001.8,.0192),
 (2001.9,.0125),(2002.0,.0072),(2002.2,.0058),(2002.3,.0035),(2002.4,.0045),(2002.6,.0048),(2002.8,.0058),(2003.0,.0062),
 (2003.1,.0068),(2003.2,.0052),(2003.3,.0078),(2003.5,.0085),(2003.6,.0055),(2003.8,.0048),(2004.0,.0058),(2004.2,.0065),
 (2004.4,.0045),(2004.5,.0055),(2004.7,.0035),(2004.9,.0025),(2005.1,.0055),(2005.3,.0025),(2005.5,.0035),(2005.7,.0048),
 (2005.9,.0018),(2006.1,.0015),(2006.3,.0035),(2006.5,.0042),(2006.7,.0045),(2006.9,.0035),(2007.1,.0058),(2007.3,.0065),
 (2007.4,.0078),(2007.5,.0085),(2007.6,.0055),(2007.8,.0062),(2008.0,.0058),(2008.2,.0052),(2008.4,.0045),(2008.5,.0055),
 (2008.7,.0038),(2008.9,.0065),(2009.0,.0012),(2009.2,.0018),(2009.4,.0022),(2009.6,.0015),(2009.8,.0028),(2010.0,.0025),
 (2010.2,.0012),(2010.4,.0035),(2010.6,.0022),(2010.8,.0018),(2011.0,.0025),(2011.2,.0028),(2011.4,.0015),(2011.6,.0022),
 (2011.8,.0012),(2012.0,.0025),(2012.2,.0018),(2012.4,.0032),(2012.6,.0022),(2012.8,.0015),(2013.0,.0025),(2013.2,.0035),
 (2013.4,.0022),(2013.6,.0028),(2013.8,.0018),(2014.0,.0025),(2014.2,.0032),(2014.4,.0022),(2014.6,.0035),(2014.8,.0028),
 (2015.0,.0018),(2015.2,.0025),(2015.4,.0035),(2015.6,.0022),(2015.8,.0028),(2016.0,.0018),(2016.2,.0032),(2016.4,.0038),
 (2016.6,.0025),(2016.8,.0018),(2017.0,.0028),(2017.2,.0015),(2017.4,.0022),(2017.6,.0012),(2017.8,.0018),(2018.0,.0015)]
sto_ahch_red = [(2011.8,.0042),(2012.0,.0035),(2012.3,.0028),(2012.6,.0042),(2012.9,.0022),(2013.2,.0032),(2013.5,.0015),
 (2013.8,.0025),(2014.1,.0008),(2014.4,.0018),(2014.7,.0012),(2015.0,.0022),(2015.3,.0015),(2015.6,.0012),(2015.9,.0008),
 (2016.2,.0015),(2016.5,.0012),(2016.8,.0018),(2017.1,.0009),(2017.4,.0013),(2017.7,.0010),(2018.0,.0012)]
sto_ahch_pale = [(2015.9,.0002)]
sto_ahch_gband = ([1995.0,1997,2000,2003,2005,2008,2011,2014,2018.1],
                  [.0133,.0113,.0088,.0063,.005,.0035,.0024,.0016,.001],
                  [.015,.0125,.0094,.0068,.0054,.0038,.0027,.002,.0014],
                  [.0169,.0137,.010,.0073,.0058,.0041,.003,.0024,.0018])
sto_ahch_pband = ([2011.6,2013,2014.5,2016,2018.1],
                  [.0025,.0019,.0014,.0011,.0008],
                  [.0035,.0026,.002,.0015,.0012],
                  [.0046,.0034,.0026,.002,.0017])

# ---------------- Storhofdi PP_DDE ----------------
sto_ppdde_green = [
 (1995.4,3.6e-4),(1995.8,3.25e-4),(1995.9,4.2e-4),(1996.2,2.2e-4),(1996.3,2.75e-4),(1996.5,2.4e-4),(1996.8,2.8e-4),
 (1998.0,2.5e-4),(1998.3,3.35e-4),(1998.4,4.05e-4),(1998.6,1.45e-4),(1998.7,1.42e-4),(1998.9,1.42e-4),(1999.0,1.45e-4),
 (1999.1,1.55e-4),(1999.3,0.2e-4),(1999.5,2.65e-4),(1999.6,0.55e-4),(1999.7,0.5e-4),(1999.8,0.45e-4),(2000.0,0.95e-4),
 (2000.1,0.9e-4),(2000.3,1.3e-4),(2000.4,2.4e-4),(2000.5,3.05e-4),(2000.6,2.05e-4),(2000.8,3.0e-4),(2001.0,3.9e-4),
 (2001.1,3.2e-4),(2001.2,3.55e-4),(2001.3,2.25e-4),(2001.4,3.25e-4),(2001.6,0.7e-4),(2001.7,0.65e-4),(2001.8,0.6e-4),
 (2001.9,0.85e-4),(2002.0,2.45e-4),(2002.1,2.4e-4),(2002.2,1.2e-4),(2002.4,2.9e-4),(2002.5,1.15e-4),(2002.7,1.65e-4),
 (2002.8,2.2e-4),(2002.9,2.05e-4),(2003.0,2.1e-4),(2003.2,3.8e-4),(2003.3,3.55e-4),(2003.4,3.35e-4),(2003.5,3.75e-4),
 (2003.7,3.75e-4),(2003.9,2.45e-4),(2004.0,4.2e-4),(2004.1,2.0e-4),(2004.3,1.6e-4),(2004.4,1.65e-4),(2004.5,1.7e-4),
 (2004.6,1.62e-4),(2004.8,1.75e-4),(2005.0,2.2e-4),(2005.1,1.85e-4),(2005.3,0.75e-4),(2005.5,1.4e-4),(2005.6,1.45e-4),
 (2005.7,1.8e-4),(2005.9,2.2e-4),(2006.0,1.05e-4),(2006.1,1.0e-4),(2006.3,0.95e-4),(2006.4,1.6e-4),(2006.6,1.0e-4),
 (2006.8,1.05e-4),(2007.0,2.6e-4),(2007.1,1.2e-4),(2007.2,1.25e-4),(2007.3,0.95e-4),(2007.4,1.05e-4),(2007.5,0.9e-4),
 (2007.6,0.95e-4),(2007.8,1.95e-4),(2007.9,1.0e-4),(2008.0,2.25e-4),(2008.1,1.05e-4),(2008.4,1.9e-4),(2008.6,3.55e-4),
 (2008.7,2.65e-4),(2008.9,1.6e-4),(2009.0,0.55e-4),(2009.1,0.5e-4),(2009.2,0.55e-4),(2009.4,0.5e-4),(2009.6,1.9e-4),
 (2009.8,1.55e-4),(2010.0,3.0e-4),(2010.1,2.2e-4),(2010.2,3.65e-4),(2010.3,3.85e-4),(2010.4,2.3e-4),(2010.5,1.7e-4),
 (2010.7,1.6e-4),(2010.9,1.7e-4),(2011.2,2.8e-4),(2011.4,1.65e-4),(2011.5,0.7e-4),(2011.7,0.65e-4),(2011.9,1.6e-4),
 (2012.1,2.05e-4),(2012.2,1.8e-4),(2012.3,1.65e-4),(2012.4,0.6e-4),(2012.6,0.75e-4),(2012.8,1.75e-4),(2013.0,1.45e-4),
 (2013.2,1.6e-4),(2014.0,1.7e-4),(2014.5,1.6e-4),(2015.0,1.65e-4),(2015.5,1.7e-4),(2016.0,1.65e-4),(2016.5,1.6e-4),
 (2017.0,1.7e-4)]
sto_ppdde_red = [(2011.7,2.45e-4),(2011.9,2.2e-4),(2012.0,0.55e-4),(2012.3,1.85e-4),(2012.6,2.0e-4),(2012.9,0.6e-4),
 (2013.2,4.15e-4),(2013.5,1.65e-4),(2013.8,2.85e-4),(2014.0,1.5e-4),(2014.3,2.6e-4),(2014.5,0.45e-4),(2014.8,0.35e-4),
 (2015.0,2.3e-4),(2015.2,3.6e-4),(2015.5,1.4e-4),(2015.8,0.65e-4),(2016.1,1.25e-4),(2016.4,0.65e-4),(2016.7,0.2e-4),
 (2017.0,1.15e-4),(2017.3,0.55e-4),(2017.6,1.05e-4),(2017.9,0.85e-4),(2018.2,2.4e-4)]
sto_ppdde_pale = [(1995.0,0.0),(1995.1,0.0),(1995.2,0.0),(1995.3,0.0),(1995.6,0.0),(1996.6,0.0),(1999.3,0.0),(1999.5,0.0),
 (2013.3,0.5e-4),(2013.4,0.5e-4),(2013.5,0.55e-4),(2013.7,0.5e-4),(2013.8,0.55e-4),(2014.0,0.6e-4),(2014.1,0.55e-4),
 (2014.2,0.6e-4),(2014.3,0.65e-4),(2014.4,0.7e-4),(2014.5,0.75e-4),(2014.6,0.7e-4),(2015.0,3.25e-4),(2015.3,2.0e-4),
 (2015.5,3.9e-4),(2015.7,2.9e-4),(2015.9,3.05e-4),(2016.0,2.2e-4),(2016.2,2.5e-4),(2016.3,1.95e-4),(2016.5,2.1e-4),
 (2016.6,1.8e-4),(2016.8,2.0e-4),(2017.0,2.45e-4),(2017.2,1.85e-4),(2017.4,2.35e-4),(2017.6,2.8e-4),(2017.8,1.95e-4),
 (2018.0,2.2e-4),(2015.2,1.9e-4),(2015.8,1.75e-4),(2016.4,2.25e-4),(2017.1,1.7e-4),(2017.5,2.0e-4),(2017.9,1.8e-4)]
sto_ppdde_gband = ([1995.0,2000,2005,2010,2015,2018.1],
                   [1.15e-4,1.3e-4,1.4e-4,1.42e-4,1.35e-4,1.25e-4],
                   [1.65e-4,1.65e-4,1.65e-4,1.65e-4,1.65e-4,1.65e-4],
                   [2.35e-4,2.05e-4,1.95e-4,1.93e-4,2.05e-4,2.2e-4])
sto_ppdde_pband = ([2011.6,2012.3,2013,2014,2015,2016.5,2018.2],
                   [1.2e-4,1.15e-4,1.1e-4,1.0e-4,0.85e-4,0.6e-4,0.35e-4],
                   [2.4e-4,2.2e-4,2.0e-4,1.75e-4,1.5e-4,1.2e-4,0.9e-4],
                   [4.8e-4,4.1e-4,3.4e-4,2.8e-4,2.4e-4,2.1e-4,1.95e-4])

# ---------------- Zeppelin A_HCH ----------------
zep_ahch_green = [
 (1993.3,.06),(1993.6,.0575),(1993.8,.055),(1994.0,.053),(1994.1,.0515),(1994.2,.0485),(1994.3,.0455),(1994.4,.041),
 (1994.5,.0515),(1994.6,.054),(1994.7,.0555),(1994.9,.0495),(1995.0,.061),(1995.1,.0575),(1995.2,.051),(1995.4,.0525),
 (1995.5,.0485),(1995.6,.0595),(1995.7,.0545),(1995.9,.045),(1996.0,.0455),(1996.1,.0515),(1996.3,.0375),(1996.4,.0425),
 (1996.5,.0535),(1996.6,.043),(1996.8,.0545),(1997.0,.0465),(1997.1,.0395),(1997.2,.0365),(1997.4,.0355),(1997.5,.0415),
 (1997.6,.049),(1997.8,.0445),(1997.9,.0455),(1998.0,.0485),(1998.1,.0465),(1998.2,.0395),(1998.3,.032),(1998.4,.0045),
 (1998.5,.0425),(1998.6,.0375),(1998.8,.039),(1998.9,.0355),(1999.0,.0345),(1999.2,.0305),(1999.3,.0285),(1999.4,.029),
 (1999.5,.0415),(1999.6,.0395),(1999.7,.032),(1999.8,.0355),(2000.0,.0295),(2000.1,.0135),(2000.2,.0165),(2000.3,.0225),
 (2000.4,.0195),(2000.5,.0245),(2000.6,.018),(2000.8,.0215),(2000.9,.0155),(2001.0,.0235),(2001.1,.0245),(2001.2,.0195),
 (2001.3,.0145),(2001.5,.0225),(2001.6,.0275),(2001.7,.0295),(2001.8,.025),(2002.0,.0195),(2002.1,.0215),(2002.2,.016),
 (2002.4,.0205),(2002.5,.0265),(2002.6,.0425),(2002.7,.0335),(2002.8,.0195),(2002.9,.0215),(2003.0,.0175),(2003.2,.0105),
 (2003.3,.012),(2003.4,.0145),(2003.5,.009),(2003.6,.0195),(2003.8,.0155),(2004.0,.0235),(2004.1,.013),(2004.2,.0115),
 (2004.4,.014),(2004.5,.0125),(2004.7,.0245),(2004.8,.0225),(2004.9,.011),(2005.0,.016),(2005.2,.0175),(2005.3,.014),
 (2005.4,.0125),(2005.6,.0105),(2005.8,.011),(2006.0,.0085),(2006.2,.0095),(2006.3,.0075),(2006.5,.011),(2006.7,.0085),
 (2006.9,.0095),(2007.0,.0065),(2007.2,.0085),(2007.4,.0095),(2007.6,.007),(2007.8,.0085),(2008.0,.0075),(2008.2,.0065),
 (2008.4,.0085),(2008.6,.006),(2008.8,.0075),(2009.0,.008),(2009.2,.007),(2009.4,.0055),(2009.6,.008),(2009.8,.0065),
 (2010.0,.006),(2010.2,.0075),(2010.4,.005),(2010.6,.0065),(2010.8,.0055),(2011.0,.007),(2011.1,.0045),(2011.2,.0055),
 (2011.3,.0065),(2011.4,.004),(2011.5,.006),(2011.6,.005),(2011.7,.007),(2011.8,.0045),(2011.9,.0055),(2012.0,.0035),
 (2012.1,.0065),(2012.2,.005),(2012.3,.0075),(2012.4,.004),(2012.5,.006),(2012.6,.0045),(2012.7,.0055),(2012.8,.0035),
 (2012.9,.0065),(2013.0,.005),(2013.1,.0045),(2013.2,.006),(2013.3,.004),(2013.4,.0055),(2013.5,.0035),(2013.6,.0065),
 (2013.7,.0045),(2013.8,.005),(2013.9,.003),(2014.0,.0055),(2014.1,.0045),(2014.2,.006),(2014.3,.0035),(2014.4,.005),
 (2014.5,.004),(2014.6,.0065),(2014.7,.0045),(2014.8,.0025),(2014.9,.0055),(2015.0,.004),(2015.1,.005),(2015.2,.0035),
 (2015.3,.006),(2015.4,.0045),(2015.5,.003),(2015.6,.0055),(2015.7,.004),(2015.8,.005),(2015.9,.0035),(2016.0,.0045),
 (2016.1,.0055),(2016.2,.003),(2016.3,.005),(2016.4,.004),(2016.5,.006),(2016.6,.0035),(2016.7,.0045),(2016.8,.0025),
 (2016.9,.005),(2017.0,.0065),(2017.1,.004),(2017.2,.0055),(2017.3,.003),(2017.4,.0045),(2017.5,.0035),(2017.6,.005),
 (2017.7,.004),(2017.8,.003),(2017.9,.0045),(2018.0,.002)]
zep_ahch_red = [(2013.3,.0095),(2013.6,.005),(2013.9,.004),(2014.2,.0045),(2014.5,.0035),(2014.8,.0055),(2015.0,.0025),
 (2015.3,.0045),(2015.6,.0035),(2015.9,.005),(2016.2,.004),(2016.5,.003),(2016.8,.0045),(2017.1,.0035),(2017.4,.005),
 (2017.7,.004),(2018.0,.005)]
zep_ahch_pale = []
zep_ahch_gband = ([1993.3,1995,1997,2000,2003,2006,2009,2012,2015,2018.1],
                  [.054,.047,.0385,.028,.02,.0138,.0099,.007,.0052,.004],
                  [.058,.05,.041,.0295,.021,.0145,.0105,.0075,.0057,.0045],
                  [.063,.0535,.0435,.031,.022,.0152,.0111,.008,.0062,.005])
zep_ahch_pband = ([2013.2,2015,2018.1],
                  [.003,.0032,.0031],
                  [.0045,.0042,.0041],
                  [.0062,.0053,.0052])

# ---------------- Zeppelin PP_DDE ----------------
zep_ppdde_green = [
 (1994.0,.00118),(1994.2,.00101),(1994.3,.00082),(1994.4,.00052),(1994.5,.00058),(1994.6,.00112),(1994.7,.00145),
 (1994.8,.00096),(1994.9,.00085),(1995.0,.00138),(1995.2,.00102),(1995.3,.00095),(1995.4,.00022),(1995.5,.00016),
 (1995.6,.0002),(1995.7,.00061),(1995.8,.00078),(1995.9,.00132),(1996.0,.00133),(1996.2,.00058),(1996.4,.00082),
 (1996.6,.00042),(1996.8,.00022),(1996.9,.00112),(1997.0,.00095),(1997.1,.00106),(1997.2,.00052),(1997.4,.00025),
 (1997.5,.00096),(1997.6,.00045),(1997.8,.00032),(1997.9,.00138),(1998.0,.00082),(1998.1,.0012),(1998.2,.00145),
 (1998.4,.00085),(1998.5,.00062),(1998.6,.00022),(1998.7,.00032),(1998.8,.00082),(1998.9,.00078),(1999.0,.00098),
 (1999.1,.00061),(1999.3,.00025),(1999.4,.00022),(1999.5,.00068),(1999.6,.00055),(1999.8,.00072),(2000.0,.00132),
 (2000.1,.00068),(2000.2,.00025),(2000.4,.00082),(2000.5,.00032),(2000.7,.00065),(2000.8,.00072),(2001.0,.00052),
 (2001.1,.00042),(2001.3,.00028),(2001.5,.00058),(2001.6,.00045),(2001.8,.00135),(2002.0,.00072),(2002.1,.00062),
 (2002.3,.00032),(2002.4,.00055),(2002.6,.00048),(2002.8,.00022),(2003.0,.00112),(2003.1,.00098),(2003.2,.00045),
 (2003.4,.00035),(2003.5,.00062),(2003.7,.00048),(2003.8,.00025),(2004.0,.00038),(2004.2,.00062),(2004.4,.00022),
 (2004.6,.0002),(2004.8,.00032),(2005.0,.00052),(2005.1,.00048),(2005.3,.00012),(2005.5,.00038),(2005.7,.00022),
 (2005.9,.00115),(2006.0,.00139),(2006.1,.00132),(2006.3,.00035),(2006.5,.00028),(2006.6,.00048),(2006.8,.00115),
 (2007.0,.00105),(2007.1,.00072),(2007.3,.00045),(2007.4,.00025),(2007.6,.00022),(2007.8,.00038),(2008.0,.00012),
 (2008.2,.00038),(2008.3,.00022),(2008.5,.00008),(2008.7,.00015),(2008.9,.00032),(2009.0,.00008),(2009.2,.00025),
 (2009.4,.00018),(2009.6,.00005),(2009.8,.00012),(2010.0,.00125),(2010.1,.00028),(2010.3,.00015),(2010.5,.00018),
 (2010.7,.00008),(2010.9,.00022),(2011.0,.00018),(2011.2,.00028),(2011.4,.00012),(2011.5,.00005),(2011.6,.00065),
 (2011.7,.00045),(2011.8,.00022),(2011.9,.00018),(2012.0,.00082),(2012.1,.00095),(2012.2,.00035),(2012.3,.00012),
 (2012.4,.00005),(2012.5,.00025),(2012.6,.00055),(2012.7,.0011),(2012.8,.00015),(2012.9,.00035),(2013.0,.00045),
 (2013.1,.00082),(2013.2,.00022),(2013.3,.00005),(2013.4,.00038),(2013.5,.00062),(2013.6,.00025),(2013.7,.00095),
 (2013.8,.00015),(2013.9,.00105),(2014.0,.00125),(2014.1,.00075),(2014.2,.0004),(2014.3,.00012),(2014.4,.00055),
 (2014.5,.00032),(2014.6,.00085),(2014.7,.00018),(2014.8,.00065),(2014.9,.00042),(2015.0,.00095),(2015.1,.00028),
 (2015.2,.0001),(2015.3,.00048),(2015.4,.00075),(2015.5,.00022),(2015.6,.00062),(2015.7,.00115),(2015.8,.00085),
 (2015.9,.00035),(2016.0,.00145),(2016.1,.00105),(2016.2,.00055),(2016.3,.00018),(2016.4,.00095),(2016.5,.00042),
 (2016.6,.00065),(2016.7,.00025),(2016.8,.00012),(2016.9,.00048),(2017.0,.00075),(2017.2,.00032),(2017.5,.00015),
 (2017.8,.00142),(2017.9,.00055),(2018.0,.00025)]
zep_ppdde_red = [(2013.1,.00012),(2013.4,.00018),(2013.7,.0001),(2014.0,.00005),(2014.3,.00015),(2014.6,.00022),
 (2014.9,.00012),(2015.2,.00018),(2015.5,.00008),(2015.8,.00015),(2016.1,.0002),(2016.4,.00012),(2016.7,.00018),
 (2017.0,.00025),(2017.3,.0002),(2017.6,.00035),(2017.9,.0003)]
zep_ppdde_pale = []
zep_ppdde_gband = ([1994.0,1996,1998,2000,2002,2005,2008,2010,2012.6],
                   [.00093,.00084,.00075,.00065,.00057,.00045,.00034,.00028,.0002],
                   [.00118,.00102,.00088,.00075,.00064,.0005,.00038,.00032,.00025],
                   [.00153,.00124,.001,.00083,.00071,.00055,.00043,.00036,.00031])
zep_ppdde_pband = ([2013.0,2014.5,2016,2017.3,2018.0],
                   [.00005,.00004,.00003,.00003,.00004],
                   [.00015,.00016,.00017,.00018,.00019],
                   [.00042,.00036,.00036,.00045,.00058])

# ---------------- axis ticks / labels ----------------
xticks = [[2005,2010,2015],[2010,2012,2014,2016,2018],[2000,2005,2010,2015],[2000,2005,2010,2015],
          [2000,2005,2010,2015],[2000,2005,2010,2015],[1995,2000,2005,2010,2015],[2000,2005,2010,2015],
          [1995,2000,2005,2010,2015],[1995,2000,2005,2010,2015],[1995,2000,2005,2010,2015],[1995,2000,2005,2010,2015]]
yticks = [[0,.002,.004,.006,.008,.010,.012],[0,.0005,.001,.0015,.002],[0,.01,.02,.03,.04,.05],[0,.01,.02,.03,.04,.05],
          [0,.005,.01,.015,.02,.025],[0,.0002,.0004,.0006,.0008,.001,.0012],[0,.005,.01,.015,.02,.025,.03],
          [0,.001,.002,.003,.004,.005],[0,.005,.01,.015],[0,1e-4,2e-4,3e-4,4e-4],[0,.01,.02,.03,.04,.05,.06],
          [0,.0005,.001,.0015]]
ylabels_left = [['0.000','','0.004','','0.008','','0.012'],['0.0000','','0.0010','','0.0020'],
                ['0.00','0.01','0.02','0.03','0.04','0.05'],['0.00','0.01','0.02','0.03','0.04','0.05'],
                ['0.000','','0.010','','0.020',''],['0.0000','','0.0004','','0.0008','','0.0012'],
                ['0.000','','0.010','','0.020','','0.030'],['0.000','','0.002','','0.004',''],
                ['0.000','0.005','0.010','0.015'],['0e+00','1e-04','2e-04','3e-04','4e-04'],
                ['0.00','','0.02','','0.04','','0.06'],['0.0000','0.0005','0.0010','0.0015']]
ylabels_right = [['0','0.006','','0.018','','0.03',''],['0','0.003','0.007','0.01','0.014'],
                 ['0','0.06','0.11','0.17','0.23','0.28'],['0','0.15','0.3','0.44','0.59','0.74'],
                 ['0','0.02','0.05','0.07','0.1','0.12'],['0','','0.004','','0.008','','0.012'],
                 ['0','0.04','','0.12','','0.2','0.24'],['0','0.02','0.04','0.07','0.09','0.11'],
                 ['0','0.23','0.46','0.68'],['0','0.024','0.047','0.071','0.095'],
                 ['0','0.05','','0.14','','0.24',''],['0','0.022','0.044','0.066']]

# ---------------- layout (positions / styles) ----------------
LAYOUT = [
 dict(xlim=(2002.96,2019.2), ylim=(-0.0005,0.0130), fac=3.0, vl=list(range(2004,2019))),
 dict(xlim=(2009.72,2018.63), ylim=(-0.0001,0.00246), fac=7.0, vl=[2011,2013,2015,2017]),
 dict(xlim=(1996.15,2019.1), ylim=(-0.0019,0.0512), fac=5.63, vl=list(range(1997,2019))),
 dict(xlim=(1995.65,2019.2), ylim=(-0.0021,0.0561), fac=14.8, vl=list(range(1997,2019))),
 dict(xlim=(1995.34,2019.0), ylim=(-0.0013,0.0294), fac=4.9, vl=list(range(1997,2019))),
 dict(xlim=(1995.0,2019.1), ylim=(-0.00006,0.00137), fac=10.0, vl=list(range(1997,2019))),
 dict(xlim=(1993.27,2019.3), ylim=(-0.0012,0.0301), fac=8.0, vl=list(range(1995,2019))),
 dict(xlim=(1995.17,2019.05), ylim=(-0.00022,0.00505), fac=22.0, vl=list(range(1997,2019))),
 dict(xlim=(1994.35,2018.64), ylim=(-0.0007,0.0187), fac=45.5, vl=list(range(1996,2019))),
 dict(xlim=(1994.1,2019.2), ylim=(-0.16e-4,4.2e-4), fac=237.5, vl=list(range(1996,2019))),
 dict(xlim=(1992.5,2018.9), ylim=(-0.0025,0.0605), fac=4.8, vl=list(range(1994,2019))),
 dict(xlim=(1993.65,2018.73), ylim=(-0.00007,0.00151), fac=44.0, vl=list(range(1995,2019))),
]
PANELS = [
 (birk_ahch_green, birk_ahch_red, birk_ahch_pale, birk_ahch_gband, birk_ahch_pband),
 (birk_ppdde_green, birk_ppdde_red, birk_ppdde_pale, birk_ppdde_gband, birk_ppdde_pband),
 (kos_ahch_green, kos_ahch_red, kos_ahch_pale, kos_ahch_gband, kos_ahch_pband),
 (kos_ppdde_green, kos_ppdde_red, kos_ppdde_pale, kos_ppdde_gband, kos_ppdde_pband),
 (pal_ahch_green, pal_ahch_red, pal_ahch_pale, pal_ahch_gband, pal_ahch_pband),
 (pal_ppdde_green, pal_ppdde_red, pal_ppdde_pale, pal_ppdde_gband, pal_ppdde_pband),
 (rao_ahch_green, rao_ahch_red, rao_ahch_pale, rao_ahch_gband, rao_ahch_pband),
 (rao_ppdde_green, rao_ppdde_red, rao_ppdde_pale, rao_ppdde_gband, rao_ppdde_pband),
 (sto_ahch_green, sto_ahch_red, sto_ahch_pale, sto_ahch_gband, sto_ahch_pband),
 (sto_ppdde_green, sto_ppdde_red, sto_ppdde_pale, sto_ppdde_gband, sto_ppdde_pband),
 (zep_ahch_green, zep_ahch_red, zep_ahch_pale, zep_ahch_gband, zep_ahch_pband),
 (zep_ppdde_green, zep_ppdde_red, zep_ppdde_pale, zep_ppdde_gband, zep_ppdde_pband),
]

W, H = 541, 992
COLS = [(25, 238), (307, 520)]
RLABEL_DX = [17, 15]
ROWS = [(11, 135), (181, 301), (348, 468), (513, 635), (683, 802), (848, 970)]
FRAME = '#8c8c8c'
FS = 5.0
FS_R = 4.6

fig = plt.figure(figsize=(W / 100, H / 100), dpi=100)

for i in range(12):
    L = LAYOUT[i]
    green, red, pale, gband, pband = PANELS[i]
    xl, xr = COLS[i % 2]
    yt, yb = ROWS[i // 2]
    ax = fig.add_axes([xl / W, 1 - yb / H, (xr - xl) / W, (yb - yt) / H])
    ax.set_xlim(*L['xlim'])
    ax.set_ylim(*L['ylim'])
    for v in L['vl']:
        ax.axvline(v, color='#e2e2e2', lw=0.7, zorder=0)
    ax.fill_between(gband[0], gband[1], gband[3], color=(0.0, 0.80, 0.0), alpha=0.38, lw=0, zorder=1)
    ax.fill_between(pband[0], pband[1], pband[3], color=(0.95, 0.0, 0.25), alpha=0.30, lw=0, zorder=2)
    if pale:
        ax.plot([p[0] for p in pale], [p[1] for p in pale], 'o', ms=2.4, mew=0, color='#a9c9a0', zorder=3)
    ax.plot([p[0] for p in green], [p[1] for p in green], 'o', ms=2.4, mew=0, color='#1fb51f', zorder=3)
    ax.plot([p[0] for p in red], [p[1] for p in red], 'o', ms=2.4, mew=0, color='#f02828', zorder=3)
    ax.plot(gband[0], gband[2], color='#229922', lw=1.3, ls=(0, (2.2, 2.2)), zorder=4)
    ax.plot(pband[0], pband[2], color='#ee2222', lw=1.3, ls=(0, (2.2, 2.2)), zorder=4)

    ax.set_xticks(xticks[i])
    ax.set_xticklabels([str(t) for t in xticks[i]])
    ax.set_yticks(yticks[i])
    ax.set_yticklabels(ylabels_left[i], rotation=90, va='center')
    ax.tick_params(axis='x', direction='out', length=1.6, width=0.5, color='#555555', labelsize=FS, pad=1.4,
                   labelcolor='#222222')
    ax.tick_params(axis='y', direction='out', length=1.6, width=0.5, color='#555555', labelsize=FS, pad=2.2,
                   labelcolor='#222222')
    for s in ax.spines.values():
        s.set_color(FRAME)
        s.set_linewidth(0.9)
    ax.set_xlabel('Time [year]', fontsize=FS, labelpad=1.5)

    ax2 = ax.twinx()
    f = L['fac']
    ax2.set_ylim(L['ylim'][0] * f, L['ylim'][1] * f)
    ax2.set_yticks([t * f for t in yticks[i]])
    ax2.set_yticklabels(ylabels_right[i], rotation=90, va='center')
    ax2.tick_params(direction='out', length=1.6, width=0.5, color='#555555', labelsize=FS_R, pad=0.4,
                    labelcolor='#222222')
    for s in ax2.spines.values():
        s.set_color(FRAME)
        s.set_linewidth(0.9)

    ymid = 1 - (yt + yb) / 2 / H
    fig.text((xl - 19) / W, ymid, 'Concentration [ng m$^{-3}$]', rotation=90, ha='center', va='center', fontsize=FS)
    fig.text((xr + RLABEL_DX[i % 2]) / W, ymid, 'Concentration [ng PUF$^{-1}$day$^{-1}$]', rotation=90,
             ha='center', va='center', fontsize=FS_R)
    ty = 5.5 if i < 2 else yt - 10
    fig.text((xl + xr) / 2 / W, 1 - ty / H, titles[i], ha='center', va='center', fontsize=6.3, fontweight='bold')

fig.savefig('out.png', dpi=100)
